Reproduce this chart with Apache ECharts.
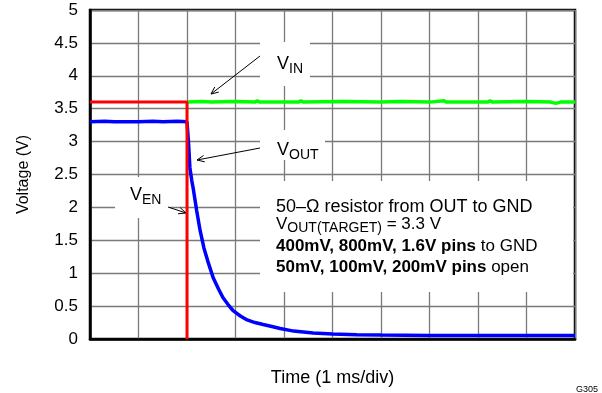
<!DOCTYPE html>
<html>
<head>
<meta charset="utf-8">
<script src="https://cdn.jsdelivr.net/npm/echarts@6/dist/echarts.min.js"></script>
<style>html,body{margin:0;padding:0;background:#fff}#c{width:602px;height:393px}</style>
</head>
<body>
<div id="c"></div>
<script>
// Time in divisions (1 ms/div), voltage in V
const yTicks = ['0','0.5','1','1.5','2','2.5','3','3.5','4','4.5','5'];
const vEN = [[0,3.6],[0.15,3.6],[0.16,3.58],[0.18,3.6],[0.3,3.6],[0.31,3.58],[0.33,3.6],[2.0,3.6],[2.0,0]];
const vIN = [[2.02,3.6],[2.3,3.61],[2.5,3.6],[3.0,3.61],[3.4,3.6],[3.45,3.62],[3.5,3.6],[4.3,3.6],[4.35,3.62],[4.4,3.6],[5.2,3.61],[6.0,3.6],[6.4,3.61],[7.0,3.6],[7.3,3.62],[7.35,3.6],[8.2,3.6],[8.25,3.62],[8.3,3.6],[9.0,3.61],[9.5,3.6],[9.6,3.58],[9.7,3.6],[10,3.6]];
const vOUT = [[0,3.3],[0.3,3.31],[0.5,3.3],[0.8,3.3],[1.0,3.3],[1.3,3.31],[1.5,3.3],[1.8,3.31],[2.0,3.3],
  [2.03,3.0],[2.06,2.6],[2.1,2.4],[2.13,2.28],[2.2,1.95],[2.27,1.65],[2.35,1.38],[2.43,1.18],[2.54,0.93],
  [2.65,0.76],[2.74,0.63],[2.85,0.52],[2.95,0.43],[3.1,0.35],[3.24,0.29],[3.4,0.25],[3.57,0.22],[3.75,0.19],
  [3.92,0.16],[4.2,0.12],[4.6,0.09],[5.0,0.075],[5.5,0.065],[6.0,0.06],[7.0,0.055],[8.0,0.055],[9.0,0.055],[10,0.055]];

const FONT = 'Liberation Sans, Arial, sans-serif';
const chart = echarts.init(document.getElementById('c'), null, {renderer:'canvas'});

function arrow(x1,y1,x2,y2){
  const a = Math.atan2(y2-y1,x2-x1), L = 8, h = 0.42;
  return [
    {type:'polyline', z:6, shape:{points:[[x1,y1],[x2,y2]]}, style:{stroke:'#000',lineWidth:1,fill:null}},
    {type:'polyline', z:6, shape:{points:[[x2-L*Math.cos(a-h),y2-L*Math.sin(a-h)],[x2,y2],[x2-L*Math.cos(a+h),y2-L*Math.sin(a+h)]]}, style:{stroke:'#000',lineWidth:1,fill:null}}
  ];
}
function box(x,y,w,h){ return {type:'rect', z:5, shape:{x:x,y:y,width:w,height:h}, style:{fill:'#fff'}}; }
function txt(x,y,text,rich,size,weight){
  return {type:'text', z:6, style:{x:x,y:y,text:text,fill:'#000',font:(weight||'normal')+' '+(size||17)+'px '+FONT,
    verticalAlign:'middle',align:'left',rich:rich||{}}};
}
const sub = (fs, pad)=>({fontSize:fs, fontFamily:FONT, padding:[pad,0,0,0]});
const main = (fs)=>({fontSize:fs, fontFamily:FONT});

const graphics = [].concat(
  box(260,42,50,44), box(260,130,65,30), box(115,177,55,41), box(260,181,313,111),
  txt(277,64,'{m|V}{s|IN}',{m:main(18),s:sub(14,10)}),
  txt(277,150,'{m|V}{s|OUT}',{m:main(18),s:sub(14,10)}),
  txt(130,195,'{m|V}{s|EN}',{m:main(18),s:sub(14,10)}),
  txt(276,207,'50\u2013\u03A9 resistor from OUT to GND',null,18),
  txt(276,224,'{m|V}{s|OUT(TARGET)}{m| = 3.3 V}',{m:main(17),s:sub(14,9)}),
  txt(276,246,'{b|400mV, 800mV, 1.6V pins}{m| to GND}',{b:{fontSize:17,fontFamily:FONT,fontWeight:'bold'},m:main(17)}),
  txt(276,267,'{b|50mV, 100mV, 200mV pins}{m| open}',{b:{fontSize:17,fontFamily:FONT,fontWeight:'bold'},m:main(17)}),
  arrow(260,56,211,94), arrow(260,148,197,160), arrow(168,207,186,213),
  [{type:'text', z:6, style:{x:576,y:390,text:'G305',fill:'#000',font:'9px '+FONT,verticalAlign:'middle',align:'left'}}]
);

chart.setOption({
  animation:false,
  backgroundColor:'#fff',
  grid:{left:90,top:10,right:27,bottom:54,show:true,borderColor:'#000',borderWidth:2.5,backgroundColor:'transparent'},
  xAxis:{type:'value',min:0,max:10,interval:1,
    name:'Time (1 ms/div)',nameLocation:'middle',nameGap:30,
    nameTextStyle:{fontSize:18,fontFamily:FONT,color:'#000'},
    axisLabel:{show:false},axisTick:{show:false},
    axisLine:{show:true,lineStyle:{color:'#000',width:2.5}},
    splitLine:{show:true,lineStyle:{color:'#7a7a7a',width:1.3}}},
  yAxis:{type:'value',min:0,max:5,interval:0.5,
    name:'Voltage (V)',nameLocation:'middle',nameGap:58,
    nameTextStyle:{fontSize:16,fontFamily:FONT,color:'#000'},
    axisLabel:{fontSize:17,fontFamily:FONT,color:'#000',margin:12,
      formatter:(v)=>yTicks[Math.round(v*2)]},
    axisTick:{show:false},
    axisLine:{show:true,lineStyle:{color:'#000',width:2.5}},
    splitLine:{show:true,lineStyle:{color:'#7a7a7a',width:1.3}}},
  series:[
    {type:'line',name:'VOUT',data:vOUT,showSymbol:false,z:10,lineStyle:{color:'#0000ff',width:3.5},itemStyle:{color:'#0000ff'}},
    {type:'line',name:'VIN',data:vIN,showSymbol:false,z:10,lineStyle:{color:'#00ff00',width:3.5},itemStyle:{color:'#00ff00'}},
    {type:'line',name:'VEN',data:vEN,showSymbol:false,z:11,lineStyle:{color:'#ff0000',width:3},itemStyle:{color:'#ff0000'}}
  ],
  graphic:{elements:graphics}
});
</script>
</body>
</html>
